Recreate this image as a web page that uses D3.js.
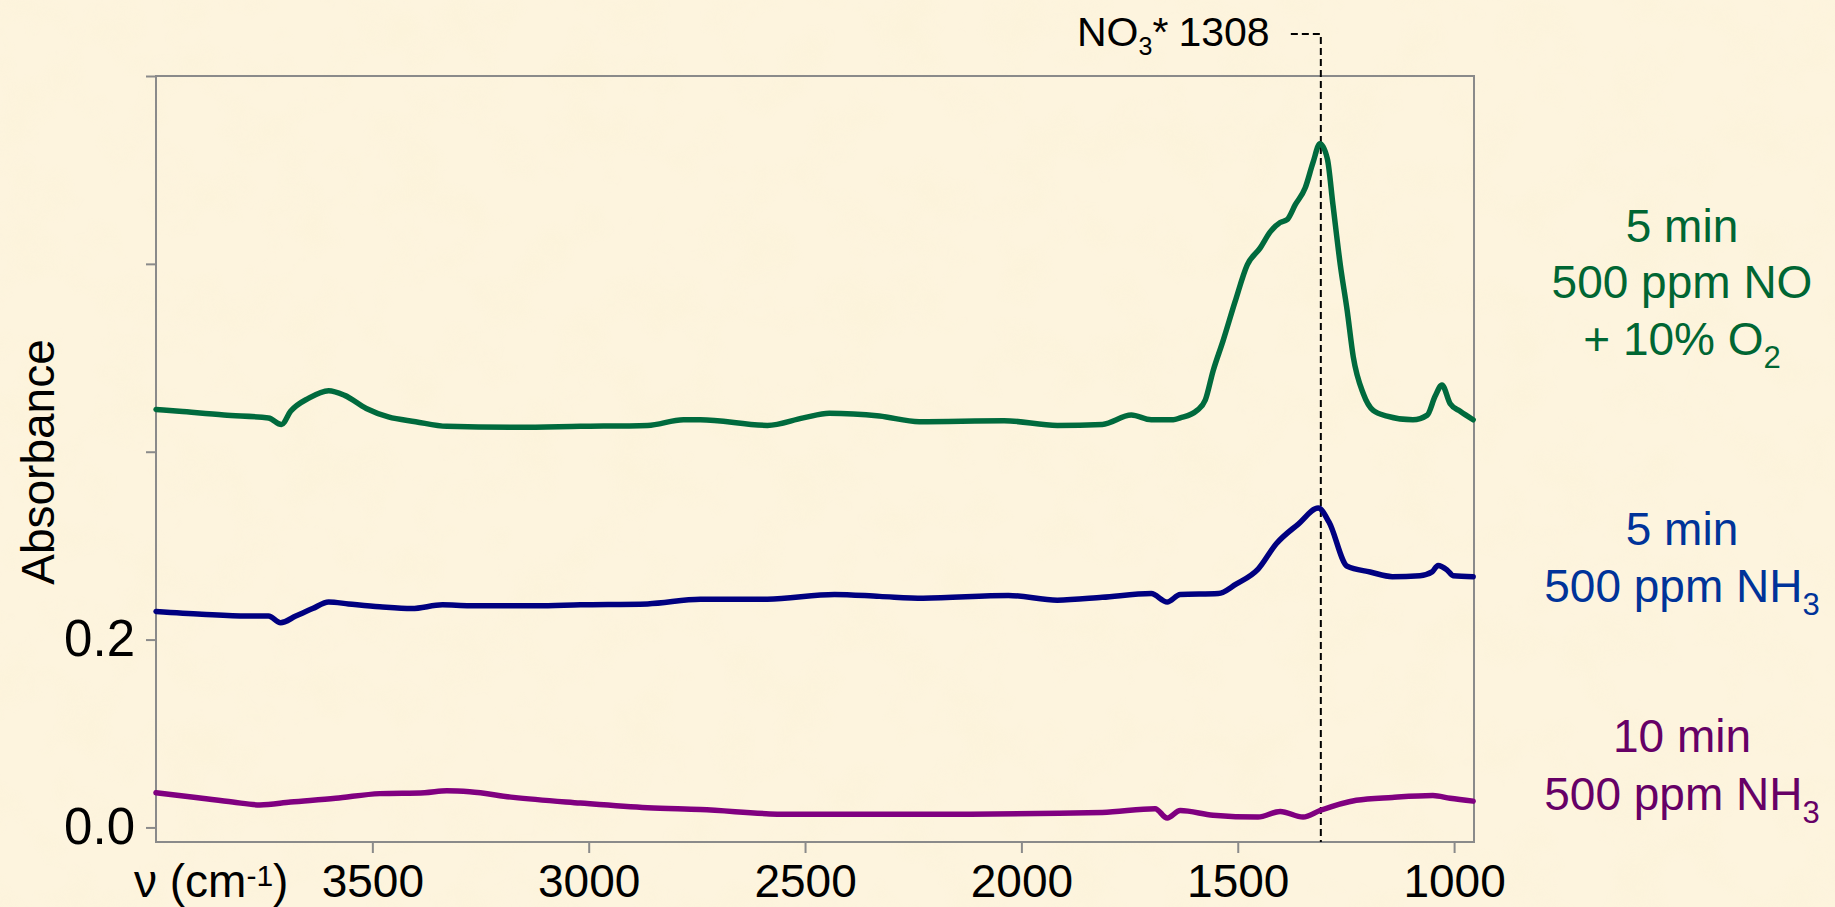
<!DOCTYPE html>
<html>
<head>
<meta charset="utf-8">
<script src="https://cdn.jsdelivr.net/npm/d3@7"></script>
<style>
  html, body { margin: 0; padding: 0; background: #fcf2d9; }
  svg { display: block; }
  text { font-family: "Liberation Sans", Arial, sans-serif; }
</style>
</head>
<body>
<svg id="chart" width="1835" height="907"></svg>
<script>
// ---------------- data ----------------
const greenWn  = [4000,3946,3843,3740,3710,3689,3647,3601,3564,3514,3463,3400,3328,3162,3019,2864,2781,2742,2587,2504,2444,2328,2236,2040,1917,1813,1746,1700,1649,1633,1594,1575,1557,1534,1506,1478,1448,1425,1402,1386,1367,1344,1326,1310,1293,1280,1263,1247,1233,1210,1187,1155,1095,1062,1044,1028,1009,986,956];
const greenAbs = [0.445,0.443,0.439,0.436,0.429,0.443,0.457,0.465,0.460,0.446,0.437,0.432,0.427,0.426,0.427,0.428,0.434,0.434,0.428,0.436,0.441,0.438,0.432,0.433,0.428,0.429,0.439,0.434,0.434,0.436,0.444,0.455,0.486,0.518,0.560,0.599,0.617,0.634,0.644,0.647,0.663,0.681,0.708,0.728,0.712,0.663,0.599,0.550,0.501,0.462,0.444,0.438,0.434,0.439,0.459,0.471,0.451,0.443,0.434];

const blueWn  = [4000,3894,3790,3740,3712,3677,3638,3601,3555,3483,3409,3338,3275,3121,3019,2864,2742,2587,2432,2328,2227,2030,1917,1813,1700,1663,1633,1545,1504,1453,1411,1360,1314,1289,1247,1194,1143,1079,1051,1037,1016,1002,956];
const blueAbs = [0.230,0.227,0.225,0.225,0.218,0.225,0.233,0.240,0.238,0.235,0.233,0.237,0.236,0.236,0.237,0.238,0.243,0.243,0.248,0.246,0.244,0.247,0.242,0.245,0.249,0.240,0.248,0.249,0.259,0.275,0.302,0.323,0.340,0.325,0.278,0.272,0.267,0.268,0.272,0.279,0.274,0.268,0.267];

const purpleWn  = [4000,3894,3823,3760,3689,3585,3483,3379,3328,3275,3174,3019,2864,2742,2536,2227,1813,1691,1663,1633,1557,1453,1402,1349,1310,1226,1143,1049,1009,956];
const purpleAbs = [0.037,0.031,0.027,0.024,0.027,0.031,0.036,0.037,0.039,0.038,0.032,0.026,0.021,0.019,0.014,0.014,0.016,0.020,0.010,0.018,0.013,0.011,0.017,0.011,0.018,0.029,0.032,0.034,0.031,0.028];

const xTicks = [3500, 3000, 2500, 2000, 1500, 1000];
const xTickLabels = ["3500", "3000", "2500", "2000", "1500", "1000"];
const yTicks = [0, 0.2, 0.4, 0.6, 0.8];
const yTickLabels = ["0.0", "0.2", "", "", ""];

const markerWn = 1308;
const markerLabel = "1308";

// ---------------- layout ----------------
const svg = d3.select("#chart");
const L = 156, R = 1474, T = 76, B = 842;
const x = d3.scaleLinear().domain([4000, 954]).range([L, R]);
const y = d3.scaleLinear().domain([-0.0155, 0.8]).range([B, T]);

const axisColor = "#8a8a8a";

// parchment background
const defs = svg.append("defs");
const f = defs.append("filter").attr("id", "paper")
  .attr("x", 0).attr("y", 0).attr("width", "100%").attr("height", "100%");
f.append("feTurbulence").attr("type", "fractalNoise").attr("baseFrequency", 0.018)
  .attr("numOctaves", 3).attr("seed", 7);
f.append("feColorMatrix").attr("type", "matrix")
  .attr("values", "0 0 0 0 0.94  0 0 0 0 0.87  0 0 0 0 0.62  1.1 0 0 0 -0.5");
svg.append("rect").attr("width", 1835).attr("height", 907).attr("fill", "#fdf4de");
svg.append("rect").attr("width", 1835).attr("height", 907)
  .attr("filter", "url(#paper)").attr("opacity", 0.45);

// frame
svg.append("rect")
  .attr("x", L).attr("y", T).attr("width", R - L).attr("height", B - T)
  .attr("fill", "none").attr("stroke", axisColor).attr("stroke-width", 2);

// y axis
const yAxis = svg.append("g").attr("transform", `translate(${L},0)`)
  .call(d3.axisLeft(y).tickValues(yTicks).tickSize(10).tickPadding(11)
    .tickFormat((d, i) => yTickLabels[i]));
yAxis.select(".domain").remove();
yAxis.selectAll(".tick line").attr("stroke", axisColor).attr("stroke-width", 2);
yAxis.selectAll(".tick text").attr("font-size", 51).attr("fill", "#000")
  .attr("font-family", '"Liberation Sans", Arial, sans-serif');

// x axis
const xAxis = svg.append("g").attr("transform", `translate(0,${B})`)
  .call(d3.axisBottom(x).tickValues(xTicks).tickSize(11).tickPadding(11)
    .tickFormat((d, i) => xTickLabels[i]));
xAxis.select(".domain").remove();
xAxis.selectAll(".tick line").attr("stroke", axisColor).attr("stroke-width", 2);
xAxis.selectAll(".tick text").attr("font-size", 46).attr("fill", "#000")
  .attr("font-family", '"Liberation Sans", Arial, sans-serif');

// x axis label
const xl = svg.append("text").attr("x", 134).attr("y", 897)
  .attr("font-size", 46).attr("fill", "#000");
xl.append("tspan").text("ν (cm");
xl.append("tspan").attr("font-size", 30).attr("dy", -11).text("-1");
xl.append("tspan").attr("dy", 11).text(")");

// y axis title
svg.append("text").attr("transform", "translate(54,462) rotate(-90)")
  .attr("text-anchor", "middle").attr("font-size", 46).attr("fill", "#000")
  .text("Absorbance");

// marker dashed line
const mx = x(markerWn);
svg.append("path")
  .attr("d", `M${mx - 30},34 H${mx} V${B}`)
  .attr("fill", "none").attr("stroke", "#000").attr("stroke-width", 2)
  .attr("stroke-dasharray", "7,4");
const ml = svg.append("text").attr("x", 1077).attr("y", 46)
  .attr("font-size", 41).attr("fill", "#000");
ml.append("tspan").text("NO");
ml.append("tspan").attr("font-size", 25).attr("dy", 9).text("3");
ml.append("tspan").attr("dy", -9).text("*");
ml.append("tspan").attr("dx", 10).text(markerLabel);

// series
const series = [
  { wn: purpleWn, a: purpleAbs, color: "#800080" },
  { wn: blueWn, a: blueAbs, color: "#000080" },
  { wn: greenWn, a: greenAbs, color: "#006a3d" }
];
const line = d3.line().x(d => x(d[0])).y(d => y(d[1])).curve(d3.curveMonotoneX);
series.forEach(s => {
  svg.append("path")
    .datum(s.wn.map((w, i) => [w, s.a[i]]))
    .attr("d", line)
    .attr("fill", "none").attr("stroke", s.color).attr("stroke-width", 5.5)
    .attr("stroke-linejoin", "round").attr("stroke-linecap", "round");
});

// legend labels
function label(lines, color) {
  lines.forEach(l => {
    const t = svg.append("text").attr("x", 1682).attr("y", l.y)
      .attr("text-anchor", "middle").attr("font-size", 46).attr("fill", color);
    t.append("tspan").text(l.main);
    if (l.sub) {
      t.append("tspan").attr("font-size", 31).attr("dy", 13).text(l.sub);
    }
  });
}
label([{ y: 242, main: "5 min" }, { y: 298, main: "500 ppm NO" }, { y: 355, main: "+ 10% O", sub: "2" }], "#006633");
label([{ y: 545, main: "5 min" }, { y: 602, main: "500 ppm NH", sub: "3" }], "#003399");
label([{ y: 752, main: "10 min" }, { y: 810, main: "500 ppm NH", sub: "3" }], "#660066");
</script>
</body>
</html>
